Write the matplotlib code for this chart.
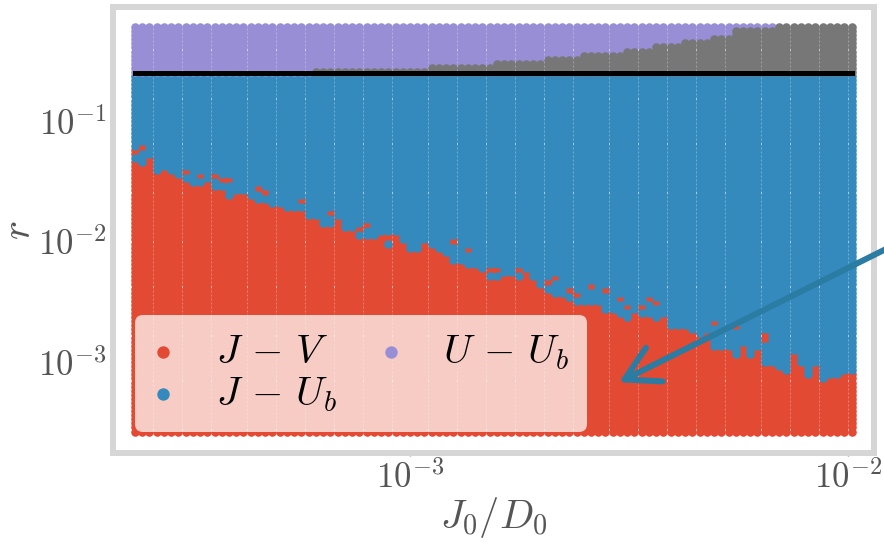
import numpy as np
import matplotlib
matplotlib.use('Agg')
import matplotlib.pyplot as plt
from matplotlib.ticker import FuncFormatter, LogLocator, NullLocator

plt.rcParams['mathtext.fontset'] = 'cm'
plt.rcParams['font.family'] = ['DejaVu Serif']

# ---------------- data ----------------
# parameter sweep grid (100 x 100, log spaced)
J_over_D = np.logspace(-3.628, -1.992, 100)
r_values = np.logspace(-3.577, -0.220, 100)

r_line = 0.25

# upper r of the J-V (red) region for each J0/D0 column
jv_top = [0.0481, 0.0446, 0.0522, 0.0379, 0.0413, 0.0379, 0.0351, 0.0324, 0.0304, 0.0304,
          0.0324, 0.0276, 0.0276, 0.0236, 0.0254, 0.0254, 0.0236, 0.0221, 0.0221, 0.0205,
          0.0205, 0.0189, 0.0189, 0.0189, 0.0161, 0.0161, 0.0138, 0.0140, 0.0161, 0.0127,
          0.0126, 0.0108, 0.0107, 0.0110, 0.0117, 0.00935, 0.0117, 0.00995, 0.00849, 0.00849,
          0.00995, 0.00905, 0.00849, 0.00787, 0.00679, 0.00679, 0.00626, 0.00626, 0.00580, 0.00495,
          0.00495, 0.00537, 0.00537, 0.00479, 0.00569, 0.00498, 0.00436, 0.00396, 0.00360, 0.00360,
          0.00327, 0.00311, 0.00316, 0.00307, 0.00316, 0.00270, 0.00270, 0.00238, 0.00231, 0.00261,
          0.00253, 0.00238, 0.00223, 0.00245, 0.00196, 0.00196, 0.00194, 0.00178, 0.00162, 0.00178,
          0.00130, 0.00130, 0.00130, 0.00112, 0.00141, 0.00111, 0.00130, 0.000944, 0.000944, 0.000887,
          0.000832, 0.00119, 0.000944, 0.000746, 0.000962, 0.000695, 0.000746, 0.000755, 0.000815, 0.000806]

# small isolated J-V patches above the main red region
island_cols = [0, 1, 7, 9, 11, 12, 13, 17, 18, 23, 27, 31, 32, 35, 44, 46, 49, 50, 53,
               57, 58, 60, 61, 63, 65, 67, 68, 70, 71, 72, 80, 83, 87, 87]
island_r = [0.0546, 0.0605, 0.0372, 0.0345, 0.0345, 0.0313, 0.0313, 0.0271, 0.0251, 0.0218,
            0.0173, 0.0129, 0.0135, 0.0109, 0.00995, 0.00849, 0.0058, 0.0058, 0.0058,
            0.00464, 0.00498, 0.00396, 0.00374, 0.00422, 0.00391, 0.00327, 0.00297, 0.00297,
            0.00333, 0.00309, 0.00209, 0.00191, 0.00152, 0.00165]

# upper r of the grey (unlabelled) region above the black line, 0 = none
gray_top = [0.0] * 25 + [0.270] * 16 + [0.292] * 9 + [0.316] * 7 + [0.346] * 5 + \
           [0.371] * 6 + [0.401] * 4 + [0.433] * 4 + [0.470] * 4 + [0.507] * 3 + \
           [0.558] * 3 + [0.594] * 3 + [0.70] * 11

labels = [r'$J\,-\,V$', r'$J\,-\,U_b$', r'$U\,-\,U_b$', None]
colors = ['#E24A33', '#348ABD', '#988ED5', '#777777']

arrow_tip = (3.0e-3, 6.8e-4)

# ---------------- classification ----------------
X, R = np.meshgrid(J_over_D, r_values, indexing='ij')
jv = np.array(jv_top)[:, None]
gt = np.array(gray_top)[:, None]
cat = np.ones(X.shape, dtype=int)
below = R <= r_line
cat[below & (R <= jv)] = 0
cat[~below] = 2
cat[(~below) & (R <= gt)] = 3
logr = np.log10(r_values)
for c, rr in zip(island_cols, island_r):
    near = np.argsort(np.abs(logr - np.log10(rr)))[:2]
    cat[c, near] = 0

# ---------------- plot ----------------
fig = plt.figure(figsize=(8.84, 5.44), dpi=100)
ax = fig.add_axes([113 / 884, 1 - 453 / 544, (873.5 - 113) / 884, (453 - 7) / 544])
ax.set_xscale('log')
ax.set_yscale('log')

for k in range(4):
    m = cat == k
    ax.scatter(X[m], R[m], s=38, c=colors[k], linewidths=0, label=labels[k], zorder=2)

ax.plot([J_over_D[0], J_over_D[-1]], [r_line, r_line], color='black', lw=3.6,
        solid_capstyle='projecting', zorder=3)

ax.set_xlim(10 ** -3.678, 10 ** -1.942)
ax.set_ylim(10 ** -3.755, 10 ** -0.054)

fmt = FuncFormatter(lambda v, p: r'$10^{%d}$' % int(round(np.log10(v))))
ax.xaxis.set_major_locator(LogLocator(base=10, numticks=10))
ax.yaxis.set_major_locator(LogLocator(base=10, numticks=10))
ax.xaxis.set_major_formatter(fmt)
ax.yaxis.set_major_formatter(fmt)
ax.xaxis.set_minor_locator(NullLocator())
ax.yaxis.set_minor_locator(NullLocator())
ax.tick_params(axis='both', which='major', labelsize=25, labelcolor='#555555',
               color='#888888', length=2, width=1, pad=3)

for sp in ax.spines.values():
    sp.set_color('#d6d6d6')
    sp.set_linewidth(4.3)

ax.set_xlabel(r'$J_0/D_0$', fontsize=29, color='#555555', labelpad=0)
ax.set_ylabel(r'$r$', fontsize=29, color='#555555', labelpad=0)

handles, labs = ax.get_legend_handles_labels()
leg = ax.legend(handles[:3], labs[:3], loc='lower left', bbox_to_anchor=(0.029, 0.047),
                borderaxespad=0, ncol=2, fontsize=29, markerscale=1.45, frameon=True,
                fancybox=True, framealpha=0.72, facecolor='white', edgecolor='none',
                handlelength=0.5, handletextpad=1.05, columnspacing=1.1, labelspacing=0.1,
                borderpad=0.45)
leg.set_zorder(5)

ax.annotate('', xy=arrow_tip, xycoords='data',
            xytext=(888 / 884, 1 - 248 / 544), textcoords='figure fraction',
            arrowprops=dict(arrowstyle='->,head_length=0.8,head_width=0.45',
                            color='#2b7ca3', lw=4.3, mutation_scale=30,
                            shrinkA=0, shrinkB=0),
            annotation_clip=False, zorder=6)

fig.savefig('out.png', dpi=100)
